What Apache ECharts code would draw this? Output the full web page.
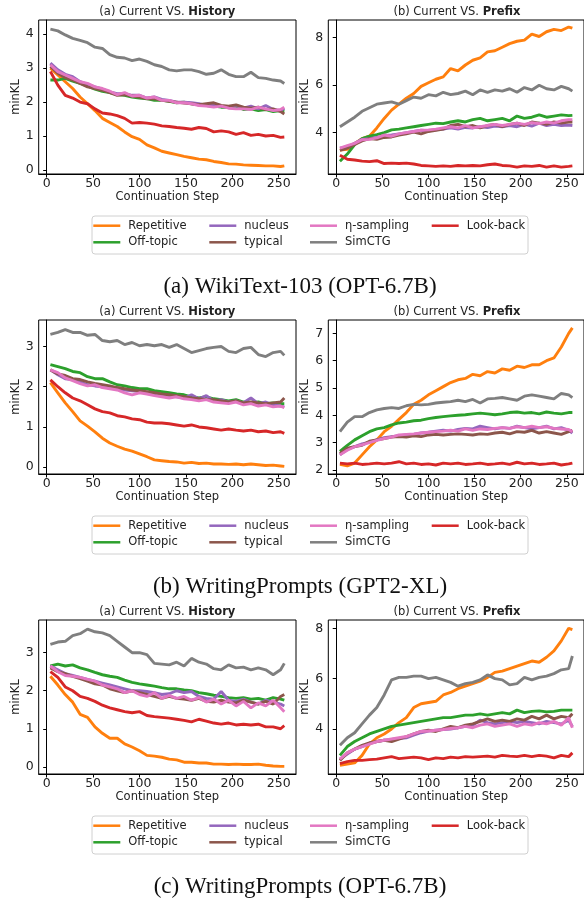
<!DOCTYPE html>
<html>
<head>
<meta charset="utf-8">
<script src="https://cdn.jsdelivr.net/npm/echarts@6/dist/echarts.min.js"></script>
<style>
html,body{margin:0;padding:0;background:#fff;}
#chart{width:584px;height:899px;}
</style>
</head>
<body>
<div id="chart"></div>
<script>
// ---------- DATA ----------
const steps = [4,12,20,28,36,44,52,60,68,76,84,92,100,108,116,124,132,140,148,156,164,172,180,188,196,204,212,220,228,236,244,252,256];
const xTicks = [0,50,100,150,200,250];
const seriesNames = ['Repetitive','Off-topic','nucleus','typical','η-sampling','SimCTG','Look-back'];
const captions = ['(a) WikiText-103 (OPT-6.7B)','(b) WritingPrompts (GPT2-XL)','(c) WritingPrompts (OPT-6.7B)'];

// Row 1: WikiText-103 (OPT-6.7B), Current vs History
const A1_repetitive = [3.0,2.8,2.6,2.4,2.15,1.95,1.75,1.52,1.4,1.28,1.12,0.98,0.9,0.74,0.65,0.55,0.5,0.45,0.4,0.36,0.32,0.3,0.25,0.22,0.18,0.17,0.15,0.14,0.13,0.12,0.12,0.1,0.12];
const A1_offtopic   = [2.65,2.65,2.7,2.62,2.55,2.48,2.38,2.32,2.28,2.22,2.2,2.15,2.12,2.1,2.05,2.06,2.02,1.98,2.0,1.95,1.92,1.9,1.88,1.85,1.85,1.88,1.78,1.8,1.75,1.78,1.72,1.75,1.72];
const A1_nucleus    = [3.15,2.95,2.82,2.75,2.6,2.52,2.45,2.38,2.3,2.25,2.25,2.2,2.2,2.12,2.15,2.08,2.05,2.0,2.0,1.98,1.95,1.9,1.92,1.88,1.85,1.9,1.82,1.88,1.8,1.9,1.78,1.75,1.82];
const A1_typical    = [3.05,2.85,2.72,2.65,2.55,2.45,2.4,2.35,2.28,2.2,2.22,2.18,2.15,2.1,2.1,2.05,2.02,2.0,1.97,1.95,1.92,1.95,1.98,1.9,1.88,1.92,1.85,1.82,1.85,1.78,1.8,1.72,1.65];
const A1_eta        = [3.1,2.9,2.8,2.7,2.6,2.55,2.45,2.4,2.32,2.22,2.28,2.18,2.2,2.12,2.15,2.05,2.05,1.98,1.98,1.95,1.9,1.88,1.85,1.88,1.82,1.8,1.8,1.78,1.85,1.8,1.75,1.78,1.85];
const A1_simctg     = [4.15,4.1,3.98,3.88,3.82,3.75,3.62,3.58,3.4,3.32,3.3,3.22,3.27,3.2,3.1,3.05,2.95,2.92,2.95,2.95,2.9,2.82,2.85,2.95,2.82,2.75,2.75,2.88,2.72,2.7,2.65,2.62,2.55];
const A1_lookback   = [2.9,2.5,2.2,2.12,2.0,1.95,1.8,1.68,1.65,1.6,1.52,1.38,1.4,1.38,1.35,1.3,1.28,1.25,1.23,1.2,1.25,1.22,1.12,1.15,1.12,1.05,1.1,1.02,1.05,1.0,1.02,0.96,0.97];
// Row 1: Current vs Prefix
const B1_repetitive = [3.27,3.3,3.55,3.75,3.85,4.2,4.6,4.95,5.2,5.45,5.65,5.95,6.1,6.25,6.35,6.7,6.6,6.85,7.05,7.15,7.4,7.45,7.6,7.75,7.85,7.9,8.15,8.05,8.25,8.35,8.3,8.45,8.4];
const B1_offtopic   = [2.8,3.1,3.5,3.75,3.85,3.92,4.0,4.12,4.15,4.2,4.25,4.3,4.35,4.4,4.38,4.45,4.5,4.45,4.55,4.6,4.5,4.55,4.6,4.5,4.7,4.6,4.65,4.75,4.65,4.7,4.75,4.72,4.73];
const B1_nucleus    = [3.35,3.4,3.55,3.72,3.75,3.8,3.88,3.9,3.95,4.0,4.05,4.1,4.08,4.12,4.15,4.2,4.15,4.22,4.2,4.25,4.22,4.28,4.25,4.3,4.25,4.35,4.28,4.4,4.3,4.35,4.3,4.32,4.3];
const B1_typical    = [3.25,3.35,3.5,3.65,3.75,3.72,3.8,3.82,3.9,3.95,4.02,3.95,4.05,4.1,4.15,4.3,4.35,4.25,4.3,4.2,4.3,4.35,4.25,4.35,4.4,4.3,4.45,4.4,4.35,4.45,4.4,4.45,4.45];
const B1_eta        = [3.35,3.45,3.55,3.7,3.72,3.78,3.9,3.85,3.95,4.0,4.05,4.1,4.12,4.15,4.2,4.25,4.2,4.3,4.2,4.25,4.3,4.35,4.3,4.35,4.4,4.35,4.42,4.38,4.45,4.4,4.5,4.55,4.55];
const B1_simctg     = [4.25,4.45,4.65,4.9,5.05,5.2,5.25,5.3,5.2,5.35,5.5,5.45,5.6,5.55,5.7,5.6,5.65,5.75,5.6,5.8,5.7,5.8,5.75,5.85,5.7,5.9,5.8,6.0,5.85,5.8,5.95,5.85,5.75];
const B1_lookback   = [3.05,2.88,2.85,2.8,2.78,2.82,2.7,2.72,2.7,2.72,2.68,2.62,2.6,2.58,2.6,2.58,2.62,2.6,2.62,2.6,2.65,2.68,2.62,2.6,2.55,2.6,2.58,2.62,2.55,2.6,2.55,2.58,2.6];

// Row 2: WritingPrompts (GPT2-XL), Current vs History
const A2_repetitive = [2.1,1.85,1.6,1.38,1.15,1.02,0.88,0.72,0.6,0.52,0.45,0.4,0.33,0.26,0.18,0.16,0.14,0.13,0.1,0.12,0.09,0.1,0.08,0.08,0.07,0.08,0.06,0.08,0.06,0.04,0.05,0.03,0.02];
const A2_offtopic   = [2.55,2.5,2.45,2.38,2.35,2.25,2.2,2.2,2.12,2.05,2.02,1.98,1.95,1.95,1.9,1.88,1.85,1.82,1.8,1.75,1.72,1.75,1.7,1.68,1.65,1.68,1.62,1.6,1.62,1.58,1.6,1.58,1.58];
const A2_nucleus    = [2.42,2.3,2.2,2.18,2.12,2.05,2.02,2.0,1.98,1.95,1.92,1.9,1.88,1.85,1.82,1.8,1.78,1.75,1.72,1.8,1.7,1.78,1.65,1.68,1.62,1.65,1.6,1.72,1.58,1.62,1.55,1.52,1.5];
const A2_typical    = [2.42,2.32,2.28,2.2,2.18,2.12,2.08,2.05,2.02,1.98,1.95,1.92,1.9,1.88,1.85,1.82,1.8,1.78,1.75,1.72,1.7,1.68,1.68,1.65,1.62,1.65,1.6,1.62,1.6,1.58,1.6,1.62,1.72];
const A2_eta        = [2.42,2.35,2.22,2.15,2.08,2.02,2.05,1.98,1.95,1.92,1.85,1.8,1.85,1.82,1.78,1.75,1.72,1.75,1.7,1.68,1.65,1.68,1.62,1.6,1.58,1.62,1.55,1.58,1.52,1.55,1.5,1.52,1.48];
const A2_simctg     = [3.3,3.35,3.42,3.35,3.35,3.28,3.3,3.15,3.12,3.15,3.05,3.1,3.02,3.05,3.02,3.05,2.98,3.05,2.95,2.85,2.9,2.95,2.98,3.0,2.88,2.85,2.95,2.98,2.8,2.75,2.85,2.88,2.78];
const A2_lookback   = [2.17,2.0,1.85,1.72,1.65,1.55,1.45,1.38,1.35,1.28,1.25,1.2,1.18,1.12,1.1,1.1,1.08,1.05,1.02,1.05,1.0,0.98,0.95,0.92,0.95,0.92,0.9,0.92,0.88,0.9,0.86,0.88,0.84];
// Row 2: Current vs Prefix
const B2_repetitive = [2.2,2.15,2.25,2.55,2.85,3.1,3.4,3.6,3.85,4.1,4.4,4.55,4.75,4.9,5.05,5.2,5.3,5.35,5.5,5.45,5.6,5.55,5.7,5.65,5.8,5.75,5.85,5.85,6.0,6.1,6.5,7.0,7.2];
const B2_offtopic   = [2.68,2.9,3.1,3.25,3.4,3.5,3.55,3.65,3.72,3.75,3.8,3.82,3.88,3.92,3.95,3.98,4.0,4.02,4.05,4.08,4.05,4.02,4.05,4.1,4.12,4.08,4.1,4.05,4.12,4.08,4.05,4.1,4.1];
const B2_nucleus    = [2.55,2.75,2.85,2.95,3.02,3.1,3.18,3.22,3.25,3.28,3.3,3.35,3.38,3.42,3.45,3.42,3.48,3.52,3.5,3.6,3.55,3.5,3.55,3.52,3.6,3.55,3.5,3.55,3.6,3.5,3.55,3.45,3.35];
const B2_typical    = [2.6,2.8,2.85,2.9,3.05,3.1,3.15,3.2,3.22,3.2,3.25,3.22,3.28,3.3,3.28,3.3,3.32,3.3,3.28,3.32,3.3,3.35,3.38,3.32,3.4,3.38,3.45,3.35,3.4,3.35,3.3,3.4,3.45];
const B2_eta        = [2.55,2.72,2.85,2.92,3.0,3.08,3.15,3.2,3.28,3.3,3.32,3.35,3.38,3.4,3.42,3.45,3.42,3.5,3.45,3.5,3.48,3.52,3.55,3.52,3.58,3.55,3.6,3.55,3.58,3.52,3.5,3.48,3.4];
const B2_simctg     = [3.4,3.75,3.95,3.95,4.1,4.2,4.25,4.28,4.25,4.35,4.4,4.38,4.4,4.45,4.48,4.5,4.55,4.5,4.58,4.45,4.6,4.62,4.65,4.6,4.55,4.7,4.75,4.7,4.65,4.6,4.8,4.75,4.65];
const B2_lookback   = [2.25,2.22,2.25,2.2,2.22,2.25,2.22,2.25,2.3,2.22,2.25,2.2,2.22,2.18,2.25,2.22,2.25,2.2,2.22,2.25,2.2,2.22,2.25,2.2,2.28,2.22,2.25,2.2,2.22,2.25,2.18,2.22,2.25];

// Row 3: WritingPrompts (OPT-6.7B), Current vs History
const A3_repetitive = [2.38,2.15,1.9,1.7,1.38,1.3,1.05,0.88,0.75,0.75,0.6,0.52,0.42,0.3,0.28,0.25,0.2,0.18,0.12,0.12,0.1,0.1,0.07,0.07,0.06,0.07,0.06,0.06,0.07,0.04,0.02,0.01,0.01];
const A3_offtopic   = [2.65,2.7,2.65,2.68,2.6,2.55,2.48,2.42,2.38,2.35,2.28,2.22,2.18,2.15,2.12,2.08,2.05,2.05,2.02,2.0,1.95,1.92,1.88,1.85,1.82,1.8,1.82,1.78,1.8,1.75,1.82,1.78,1.75];
const A3_nucleus    = [2.65,2.55,2.45,2.4,2.35,2.3,2.25,2.2,2.15,2.1,2.05,2.0,2.0,1.98,1.95,1.9,1.92,2.0,1.95,1.98,1.85,1.8,1.78,1.98,1.75,1.72,1.78,1.7,1.65,1.75,1.7,1.65,1.6];
const A3_typical    = [2.6,2.5,2.45,2.38,2.32,2.25,2.18,2.15,2.05,2.0,1.95,2.0,1.95,1.9,1.85,1.8,1.85,1.8,1.78,1.75,1.8,1.72,1.7,1.75,1.7,1.68,1.75,1.7,1.65,1.72,1.65,1.85,1.9];
const A3_eta        = [2.65,2.5,2.4,2.38,2.35,2.3,2.25,2.15,2.1,2.05,1.95,2.0,1.9,1.85,1.95,1.8,1.88,1.8,1.85,1.75,1.82,1.7,1.78,1.65,1.75,1.6,1.72,1.55,1.68,1.6,1.75,1.55,1.45];
const A3_simctg     = [3.22,3.28,3.3,3.45,3.5,3.62,3.55,3.52,3.45,3.3,3.15,3.0,3.0,2.95,2.72,2.7,2.68,2.75,2.65,2.85,2.75,2.7,2.58,2.55,2.68,2.6,2.62,2.55,2.6,2.55,2.42,2.55,2.72];
const A3_lookback   = [2.5,2.35,2.1,2.0,1.85,1.8,1.72,1.62,1.55,1.5,1.45,1.42,1.45,1.35,1.32,1.3,1.28,1.25,1.22,1.18,1.25,1.2,1.15,1.12,1.15,1.1,1.12,1.1,1.12,1.05,1.05,1.0,1.08];
// Row 3: Current vs Prefix
const B3_repetitive = [2.55,2.6,2.65,2.95,3.4,3.65,3.8,4.0,4.25,4.45,4.85,5.0,5.05,5.1,5.35,5.45,5.6,5.7,5.8,5.9,6.05,6.25,6.3,6.4,6.5,6.6,6.7,6.65,6.85,7.1,7.5,8.0,7.95];
const B3_offtopic   = [2.95,3.3,3.5,3.65,3.8,3.9,4.0,4.1,4.15,4.2,4.25,4.3,4.35,4.4,4.45,4.45,4.5,4.55,4.55,4.6,4.55,4.6,4.65,4.6,4.75,4.65,4.7,4.72,4.68,4.7,4.75,4.75,4.75];
const B3_nucleus    = [2.8,3.0,3.2,3.3,3.42,3.5,3.55,3.58,3.62,3.65,3.75,3.85,3.92,3.95,3.98,4.0,4.05,4.1,4.15,4.35,4.25,4.2,4.25,4.3,4.25,4.3,4.25,4.2,4.3,4.25,4.2,4.35,4.1];
const B3_typical    = [2.75,3.05,3.2,3.35,3.45,3.5,3.55,3.5,3.6,3.7,3.8,3.9,3.95,3.9,4.0,4.1,4.05,4.15,4.2,4.3,4.4,4.3,4.35,4.3,4.4,4.35,4.5,4.4,4.55,4.4,4.5,4.45,4.6];
const B3_eta        = [2.8,3.05,3.2,3.3,3.4,3.5,3.55,3.6,3.65,3.7,3.8,3.9,3.92,3.95,3.98,4.02,4.05,4.1,4.05,4.15,4.2,4.1,4.15,4.2,4.1,4.2,4.15,4.25,4.2,4.3,4.15,4.45,4.05];
const B3_simctg     = [3.35,3.65,3.85,4.2,4.55,4.85,5.35,5.95,6.05,6.05,6.1,6.1,6.0,6.05,5.95,5.85,5.7,5.8,5.85,5.95,6.15,6.0,5.95,5.75,5.8,6.05,5.95,6.05,6.1,6.2,6.35,6.4,6.9];
const B3_lookback   = [2.62,2.7,2.75,2.75,2.78,2.8,2.85,2.9,2.82,2.85,2.88,2.85,2.78,2.85,2.82,2.88,2.85,2.9,2.88,2.9,2.92,2.88,2.95,2.92,2.9,2.95,2.9,2.95,2.92,2.85,2.95,2.9,3.05];

const yTicks_A1 = [0,1,2,3,4];
const yTicks_B1 = [4,6,8];
const yTicks_A2 = [0,1,2,3];
const yTicks_B2 = [2,3,4,5,6,7];
const yTicks_A3 = [0,1,2,3];
const yTicks_B3 = [4,6,8];

// ---------- BUILD ----------
const colors = ['#ff7f0e','#2ca02c','#9467bd','#8c564b','#e377c2','#7f7f7f','#d62728'];
const FONT = 'DejaVu Sans';
const panels = [
  {row:0,col:0,ymin:-0.12,ymax:4.42,yt:yTicks_A1,t:['(a) Current VS. ','History'],d:[A1_repetitive,A1_offtopic,A1_nucleus,A1_typical,A1_eta,A1_simctg,A1_lookback]},
  {row:0,col:1,ymin:2.26,ymax:8.745,yt:yTicks_B1,t:['(b) Current VS. ','Prefix'],d:[B1_repetitive,B1_offtopic,B1_nucleus,B1_typical,B1_eta,B1_simctg,B1_lookback]},
  {row:1,col:0,ymin:-0.17,ymax:3.66,yt:yTicks_A2,t:['(a) Current VS. ','History'],d:[A2_repetitive,A2_offtopic,A2_nucleus,A2_typical,A2_eta,A2_simctg,A2_lookback]},
  {row:1,col:1,ymin:1.85,ymax:7.49,yt:yTicks_B2,t:['(b) Current VS. ','Prefix'],d:[B2_repetitive,B2_offtopic,B2_nucleus,B2_typical,B2_eta,B2_simctg,B2_lookback]},
  {row:2,col:0,ymin:-0.19,ymax:3.86,yt:yTicks_A3,t:['(a) Current VS. ','History'],d:[A3_repetitive,A3_offtopic,A3_nucleus,A3_typical,A3_eta,A3_simctg,A3_lookback]},
  {row:2,col:1,ymin:2.21,ymax:8.33,yt:yTicks_B3,t:['(b) Current VS. ','Prefix'],d:[B3_repetitive,B3_offtopic,B3_nucleus,B3_typical,B3_eta,B3_simctg,B3_lookback]}
];

const gridLeft = [38.7, 328.3];
const gridW = 257.3, gridH = 154;
const grids = [], xAxes = [], yAxes = [], series = [], titles = [];
panels.forEach((p, i) => {
  const top = 20 + 300 * p.row;
  grids.push({left: gridLeft[p.col], top: top, width: gridW, height: gridH, show: true, borderColor: '#000', borderWidth: 1, containLabel: false});
  xAxes.push({
    type: 'value', gridIndex: i, min: -8.6, max: 268.6,
    name: 'Continuation Step', nameLocation: 'middle', nameGap: 16,
    nameTextStyle: {fontFamily: FONT, fontSize: 11.5, color: '#222'},
    axisLine: {show: true, onZero: false, lineStyle: {color: '#000', width: 1}},
    axisTick: {show: true, length: 3.5, lineStyle: {color: '#000', width: 1}, customValues: xTicks},
    axisLabel: {fontFamily: FONT, fontSize: 12.5, color: '#222', margin: 3, customValues: xTicks},
    splitLine: {show: false}
  });
  yAxes.push({
    type: 'value', gridIndex: i, min: p.ymin, max: p.ymax,
    name: 'minKL', nameLocation: 'middle', nameGap: 14, nameRotate: 90,
    nameTextStyle: {fontFamily: FONT, fontSize: 11.5, color: '#222'},
    axisLine: {show: true, lineStyle: {color: '#000', width: 1}},
    axisTick: {show: true, length: 3.5, lineStyle: {color: '#000', width: 1}, customValues: p.yt},
    axisLabel: {fontFamily: FONT, fontSize: 12.5, color: '#222', margin: 5, customValues: p.yt},
    splitLine: {show: false}
  });
  titles.push({
    text: '{n|' + p.t[0] + '}{b|' + p.t[1] + '}',
    left: gridLeft[p.col] + gridW / 2, top: 6 + 300 * p.row, textAlign: 'center', padding: 0,
    textStyle: {rich: {
      n: {fontFamily: FONT, fontSize: 11.5, color: '#222', fontWeight: 'normal'},
      b: {fontFamily: FONT, fontSize: 11.5, color: '#222', fontWeight: 'bold'}
    }}
  });
  p.d.forEach((vals, k) => {
    series.push({
      type: 'line', name: seriesNames[k], xAxisIndex: i, yAxisIndex: i,
      data: steps.map((s, j) => [s, vals[j]]),
      showSymbol: false, symbol: 'none', animation: false,
      lineStyle: {width: 2.9, color: colors[k]}, itemStyle: {color: colors[k]},
      z: 2 + k, emphasis: {disabled: true}
    });
  });
});

// legends: 4 columns x 2 rows (column-wise fill)
const legendCols = [[0,1],[2,3],[4,5],[6]];
const legendColX = [93.3, 209.3, 310, 431.7];
const legends = [];
const graphics = [];
[0,1,2].forEach(r => {
  const off = 300 * r;
  graphics.push({type: 'rect', z: 1, shape: {x: 92, y: 216 + off, width: 436, height: 38, r: 3},
    style: {fill: '#fff', stroke: '#d0d0d0', lineWidth: 1}});
  legendCols.forEach((col, c) => {
    col.forEach((k, rr) => {
      const cy = (rr === 0 ? 225.7 : 242.3) + off;
      legends.push({
        data: [seriesNames[k]], left: legendColX[c], top: cy - 7, padding: 0, itemGap: 0,
        itemWidth: 27, itemHeight: 2.5, icon: 'rect', selectedMode: false, z: 5,
        textStyle: {fontFamily: FONT, fontSize: 11.5, color: '#222', lineHeight: 14, padding: [0,0,0,3]}
      });
    });
  });
  graphics.push({type: 'text', z: 5,
    style: {text: captions[r], x: 300, y: 287 + off, align: 'center', verticalAlign: 'middle',
      font: '23px "Liberation Serif"', fill: '#111'}});
});

const chart = echarts.init(document.getElementById('chart'), null, {renderer: 'canvas'});
chart.setOption({
  backgroundColor: '#fff',
  animation: false,
  title: titles,
  grid: grids,
  xAxis: xAxes,
  yAxis: yAxes,
  legend: legends,
  graphic: graphics,
  series: series
});
</script>
</body>
</html>
